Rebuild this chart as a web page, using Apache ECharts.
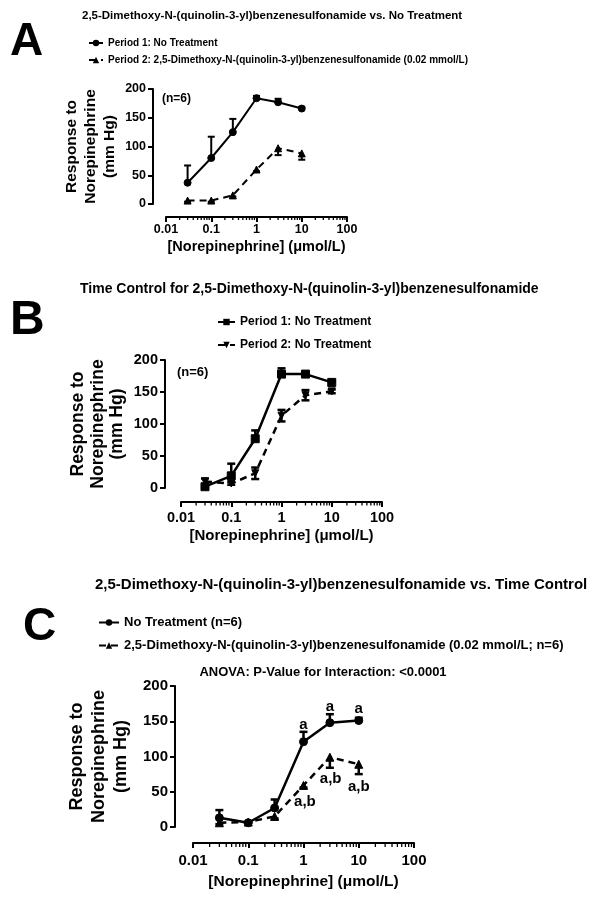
<!DOCTYPE html>
<html>
<head>
<meta charset="utf-8">
<script src="https://cdn.jsdelivr.net/npm/echarts@6/dist/echarts.min.js"></script>
<style>html,body{margin:0;padding:0;background:#fff}#c{width:602px;height:898px}</style>
</head>
<body>
<div id="c"></div>
<script>
// ---------- data ----------
const doses = [0.03, 0.1, 0.3, 1, 3, 10];
const xTickLabels = ['0.01', '0.1', '1', '10', '100'];
const minorTickValues = [0.02,0.03,0.04,0.05,0.06,0.07,0.08,0.09,0.2,0.3,0.4,0.5,0.6,0.7,0.8,0.9,2,3,4,5,6,7,8,9,20,30,40,50,60,70,80,90];

// Panel A
const a1Mean = [37, 80, 125, 184, 177, 166];
const a1Err  = [30, 37, 23, 4, 6, 3];      // upward
const a2Mean = [6, 6, 15, 60, 97, 88];
const a2Err  = [2, 2, 2, 3, 12, 11];       // downward
// Panel B
const b1Mean = [2, 19, 77, 178, 178, 165];
const b1Err  = [4, 19, 13, 9, 3, 2];       // upward
const b2Mean = [10, 7, 23, 113, 145, 151];
const b2Err  = [5, 2, 9, 9, 8, 3];         // both directions
// Panel C
const c1Mean = [13, 6, 27, 121, 148, 151];
const c1Err  = [11, 1, 12, 14, 12, 4];     // upward
const c2Mean = [6, 7, 15, 59, 99, 89];
const c2Err  = [2, 1, 3, 3, 15, 14];       // downward

// significance annotations (panel C)
const annotX = [1, 3, 10, 1.06, 3.1, 10];
const annotY = [145, 170, 167, 36, 68, 57];
const annotText = ['a', 'a', 'a', 'a,b', 'a,b', 'a,b'];

const legendText = {
  A1: 'Period 1: No Treatment',
  A2: 'Period 2: 2,5-Dimethoxy-N-(quinolin-3-yl)benzenesulfonamide (0.02 mmol/L)',
  B1: 'Period 1: No Treatment',
  B2: 'Period 2: No Treatment',
  C1: 'No Treatment (n=6)',
  C2: '2,5-Dimethoxy-N-(quinolin-3-yl)benzenesulfonamide (0.02 mmol/L; n=6)'
};

// ---------- helpers ----------
const FONT = '"Liberation Sans", Arial, sans-serif';
const BLACK = '#000';

const panels = [
  {left:166, top:89,  width:181, height:115, xoff:13, yoff:13, tick:12.5, xname:14.5, xgap:22, xmargin:6,  yname:15.5, ylh:19,   ygap:34, lw:2,   cap:7, mtick:3},
  {left:181, top:360, width:201, height:128, xoff:14, yoff:16, tick:14.5, xname:15,   xgap:26, xmargin:8,  yname:17.5, ylh:19.5, ygap:38, lw:2.5, cap:8, mtick:3.5},
  {left:193, top:686, width:221, height:141, xoff:16, yoff:18, tick:15,   xname:15.5, xgap:31, xmargin:10, yname:18,   ylh:22,   ygap:43, lw:2.5, cap:8, mtick:4}
];

function errData(mean, err, mode) {
  return doses.map((d, i) => {
    const lo = mode === 'up' ? mean[i] : mean[i] - err[i];
    const hi = mode === 'down' ? mean[i] : mean[i] + err[i];
    return [d, lo, hi];
  });
}

function errSeries(idx, mean, err, mode) {
  const cap = panels[idx].cap, lw = panels[idx].lw;
  return {
    type: 'custom', xAxisIndex: idx, yAxisIndex: idx, z: 2, silent: true,
    data: errData(mean, err, mode),
    renderItem: function (params, api) {
      const x = api.value(0);
      const a = api.coord([x, api.value(1)]);
      const b = api.coord([x, api.value(2)]);
      const st = {stroke: BLACK, lineWidth: lw};
      const ch = [{type:'line', shape:{x1:a[0], y1:a[1], x2:b[0], y2:b[1]}, style: st}];
      if (mode !== 'down') ch.push({type:'line', shape:{x1:b[0]-cap/2, y1:b[1], x2:b[0]+cap/2, y2:b[1]}, style: st});
      if (mode !== 'up') ch.push({type:'line', shape:{x1:a[0]-cap/2, y1:a[1], x2:a[0]+cap/2, y2:a[1]}, style: st});
      return {type:'group', children: ch};
    }
  };
}

function minorTickSeries(idx) {
  const p = panels[idx];
  return {
    type: 'custom', xAxisIndex: idx, yAxisIndex: idx, silent: true, z: 1,
    data: minorTickValues.map(v => [v, 0]),
    renderItem: function (params, api) {
      const c = api.coord([api.value(0), 0]);
      return {type:'line', shape:{x1:c[0], y1:c[1]+p.xoff, x2:c[0], y2:c[1]+p.xoff+p.mtick}, style:{stroke:BLACK, lineWidth:1.3}};
    }
  };
}

function lineSeries(name, idx, mean, symbol, size, dashed, rotate) {
  return {
    type: 'line', name: name, xAxisIndex: idx, yAxisIndex: idx, z: 3,
    data: doses.map((d, i) => [d, mean[i]]),
    symbol: symbol, symbolSize: size, symbolRotate: rotate || 0,
    lineStyle: {color: BLACK, width: panels[idx].lw, type: dashed ? [7, 5] : 'solid'},
    itemStyle: {color: BLACK, borderColor: BLACK},
    emphasis: {disabled: true},
    animation: false
  };
}

const grids = panels.map(p => ({left:p.left, top:p.top, width:p.width, height:p.height, containLabel:false}));

const xAxes = panels.map((p, i) => ({
  type: 'log', logBase: 10, min: 0.01, max: 100, gridIndex: i, offset: p.xoff,
  axisLine: {show:true, onZero:false, lineStyle:{color:BLACK, width:2}},
  axisTick: {show:true, length:5, lineStyle:{color:BLACK, width:2}},
  axisLabel: {color:BLACK, fontWeight:'bold', fontSize:p.tick, fontFamily:FONT, margin:p.xmargin,
    formatter: v => xTickLabels[Math.round(Math.log10(v)) + 2]},
  splitLine: {show:false},
  name: '[Norepinephrine] (\u03bcmol/L)',
  nameLocation: 'middle', nameGap: p.xgap,
  nameTextStyle: {color:BLACK, fontWeight:'bold', fontSize:p.xname, fontFamily:FONT}
}));

const yAxes = panels.map((p, i) => ({
  type: 'value', min: 0, max: 200, interval: 50, gridIndex: i, offset: p.yoff,
  axisLine: {show:true, onZero:false, lineStyle:{color:BLACK, width:2}},
  axisTick: {show:true, length:5, lineStyle:{color:BLACK, width:2}},
  axisLabel: {color:BLACK, fontWeight:'bold', fontSize:p.tick, fontFamily:FONT, margin:7},
  splitLine: {show:false},
  name: 'Response to\nNorepinephrine\n(mm Hg)',
  nameLocation: 'middle', nameRotate: 90, nameGap: p.ygap,
  nameTextStyle: {color:BLACK, fontWeight:'bold', fontSize:p.yname, lineHeight:p.ylh, fontFamily:FONT, align:'center'}
}));

const annotSeries = {
  type: 'custom', xAxisIndex: 2, yAxisIndex: 2, silent: true, z: 4,
  data: annotX.map((x, i) => [x, annotY[i], i]),
  renderItem: function (params, api) {
    const c = api.coord([api.value(0), api.value(1)]);
    return {type:'text', x:c[0], y:c[1],
      style:{text: annotText[api.value(2)], fill:BLACK, font:'bold 15px ' + FONT, align:'center', verticalAlign:'middle'}};
  }
};

const series = [
  minorTickSeries(0), minorTickSeries(1), minorTickSeries(2),
  errSeries(0, a1Mean, a1Err, 'up'),
  errSeries(0, a2Mean, a2Err, 'down'),
  errSeries(1, b1Mean, b1Err, 'up'),
  errSeries(1, b2Mean, b2Err, 'both'),
  errSeries(2, c1Mean, c1Err, 'up'),
  errSeries(2, c2Mean, c2Err, 'down'),
  lineSeries('A1', 0, a1Mean, 'circle', 7, false),
  lineSeries('A2', 0, a2Mean, 'triangle', 7, true),
  lineSeries('B1', 1, b1Mean, 'rect', 8, false),
  lineSeries('B2', 1, b2Mean, 'triangle', 7, true, 180),
  lineSeries('C1', 2, c1Mean, 'circle', 8, false),
  lineSeries('C2', 2, c2Mean, 'triangle', 8, true),
  annotSeries
];

function legend(names, left, top, iw, fs, gap) {
  return {
    orient:'vertical', left:left, top:top, itemWidth:iw, itemHeight:8, itemGap:gap,
    data:names, selectedMode:false, formatter: n => legendText[n],
    textStyle:{color:BLACK, fontWeight:'bold', fontSize:fs, fontFamily:FONT}
  };
}

function txt(text, x, y, size, align) {
  return {type:'text', x:x, y:y, silent:true,
    style:{text:text, fill:BLACK, font:'bold ' + size + 'px ' + FONT, align: align || 'left', verticalAlign:'middle'}};
}

const option = {
  backgroundColor: '#fff',
  animation: false,
  grid: grids,
  xAxis: xAxes,
  yAxis: yAxes,
  legend: [
    legend(['A1','A2'], 83, 33, 14, 10, 7),
    legend(['B1','B2'], 212, 311, 17, 12, 11),
    legend(['C1','C2'], 93, 611, 20, 13, 10)
  ],
  graphic: [
    txt('A', 10, 42, 46),
    txt('2,5-Dimethoxy-N-(quinolin-3-yl)benzenesulfonamide vs. No Treatment', 82, 16, 11.5),
    txt('(n=6)', 162, 99, 12),
    txt('B', 10, 321, 48),
    txt('Time Control for 2,5-Dimethoxy-N-(quinolin-3-yl)benzenesulfonamide', 80, 289, 14),
    txt('(n=6)', 177, 372, 13),
    txt('C', 23, 627, 46),
    txt('2,5-Dimethoxy-N-(quinolin-3-yl)benzenesulfonamide vs. Time Control', 95, 585, 15),
    txt('ANOVA: P-Value for Interaction: <0.0001', 323, 672, 13, 'center')
  ],
  series: series
};

const chart = echarts.init(document.getElementById('c'), null, {renderer:'canvas'});
chart.setOption(option);
</script>
</body>
</html>
